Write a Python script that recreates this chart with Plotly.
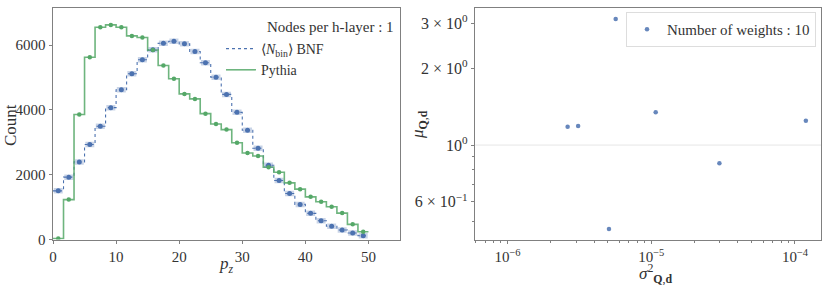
import numpy as np
import plotly.graph_objects as go

# ---------------- data ----------------
bin_edges = np.linspace(0, 50, 31)
bnf_counts = [1503, 1925, 2396, 2932, 3496, 4072, 4626, 5119, 5550, 5858,
              6061, 6123, 6043, 5806, 5458, 5014, 4481, 3927, 3373, 2818,
              2295, 1823, 1423, 1084, 807, 579, 407, 293, 200, 117]
pythia_counts = [30, 1232, 3862, 5628, 6554, 6628, 6554, 6289, 6237, 5850,
                 5375, 4965, 4497, 4343, 3887, 3567, 3394, 2988, 2673, 2577,
                 2234, 2079, 1750, 1555, 1318, 1164, 1010, 816, 468, 240]

sigma2 = [2.62e-6, 3.10e-6, 5.66e-6, 5.08e-6, 1.074e-5, 1.19e-4, 2.98e-5]
mu = [1.18, 1.187, 3.12, 0.469, 1.343, 1.245, 0.848]

x_ticks_left = [0, 10, 20, 30, 40, 50]
y_ticks_left = [0, 2000, 4000, 6000]
x_ticks_right = [1e-6, 1e-5, 1e-4]
x_ticktext_right = ["10<sup>−6</sup>", "10<sup>−5</sup>", "10<sup>−4</sup>"]
y_ticks_right = [0.6, 1, 2, 3]
y_ticktext_right = ["6 × 10<sup>−1</sup>", "10<sup>0</sup>", "2 × 10<sup>0</sup>", "3 × 10<sup>0</sup>"]

BLUE = "#4C72B0"
GREEN = "#55A868"
FONT = "Liberation Serif"
AX = "#808080"
TXT = "#333333"

centers = (bin_edges[:-1] + bin_edges[1:]) / 2
step_x = list(bin_edges)

fig = go.Figure()

# BNF step line
fig.add_trace(go.Scatter(x=step_x, y=bnf_counts + [bnf_counts[-1]], mode="lines",
                         line=dict(color=BLUE, dash="dot", width=1.1, shape="hv"),
                         name="⟨<i>N</i><sub>bin</sub>⟩ BNF", legend="legend",
                         xaxis="x", yaxis="y"))
# Pythia step line
fig.add_trace(go.Scatter(x=step_x, y=pythia_counts + [pythia_counts[-1]], mode="lines",
                         line=dict(color=GREEN, width=1.6, shape="hv"), opacity=0.85,
                         name="Pythia", legend="legend", xaxis="x", yaxis="y"))
# BNF error boxes + points
fig.add_trace(go.Scatter(x=centers, y=bnf_counts, mode="markers",
                         marker=dict(color=BLUE, size=5),
                         error_y=dict(type="constant", value=85, color="rgba(76,114,176,0.3)",
                                      thickness=9, width=0),
                         showlegend=False, xaxis="x", yaxis="y"))
fig.add_trace(go.Scatter(x=centers, y=pythia_counts, mode="markers",
                         marker=dict(color=GREEN, size=4.5),
                         showlegend=False, xaxis="x", yaxis="y"))

# right scatter
fig.add_trace(go.Scatter(x=sigma2, y=mu, mode="markers",
                         marker=dict(color=BLUE, size=4.5, opacity=0.85),
                         name="Number of weights : 10", legend="legend2",
                         xaxis="x2", yaxis="y2"))

ydom = [1 - 239.5 / 285, 1 - 8 / 285]
axis_common = dict(showline=True, linecolor=AX, linewidth=1, mirror=True,
                   ticks="outside", ticklen=3.5, tickcolor=AX, showgrid=False,
                   zeroline=False, automargin=False)

minor_x = [k * 10 ** e for e in (-7, -6, -5, -4) for k in range(2, 10)]
minor_y = [0.4, 0.5, 0.7, 0.8, 0.9, 4]

fig.update_layout(
    template="none",
    width=830, height=285, margin=dict(l=0, r=0, t=0, b=0),
    paper_bgcolor="white", plot_bgcolor="white",
    font=dict(family=FONT, size=14, color=TXT),
    xaxis=dict(domain=[53 / 830, 400 / 830], range=[0, 55], tickvals=x_ticks_left,
               tickfont=dict(family=FONT, size=15, color=TXT),
               anchor="y", **axis_common),
    yaxis=dict(domain=ydom, range=[0, 7150], tickvals=y_ticks_left,
               tickfont=dict(family=FONT, size=15, color=TXT),
               anchor="x", **axis_common),
    xaxis2=dict(domain=[475.3 / 830, 821.3 / 830], type="log", range=[-6.224, -3.817],
                tickvals=x_ticks_right, ticktext=x_ticktext_right,
                tickfont=dict(family=FONT, size=15, color=TXT),
                minor=dict(tickvals=minor_x, ticks="outside", ticklen=2, tickcolor=AX),
                anchor="y2", **axis_common),
    yaxis2=dict(domain=ydom, type="log", range=[-0.370, 0.537],
                tickvals=y_ticks_right, ticktext=y_ticktext_right,
                tickfont=dict(family=FONT, size=16, color=TXT),
                minor=dict(tickvals=minor_y, ticks="outside", ticklen=2, tickcolor=AX),
                anchor="x2", **axis_common),
    legend=dict(x=221 / 830, y=1 - 33 / 285, xanchor="left", yanchor="top",
                bgcolor="rgba(0,0,0,0)", borderwidth=0, font=dict(size=14),
                tracegroupgap=0),
    legend2=dict(x=626 / 830, y=1 - 12 / 285, xanchor="left", yanchor="top",
                 bgcolor="white", bordercolor="#dddddd", borderwidth=1,
                 font=dict(size=15)),
    showlegend=True,
)

def px_ann(text, x, y, size=17, angle=0, xanchor="center"):
    fig.add_annotation(text=text, xref="paper", yref="paper",
                       x=x / 830, y=1 - y / 285, xanchor=xanchor, yanchor="middle",
                       textangle=angle, showarrow=False,
                       font=dict(family=FONT, size=size, color=TXT))

px_ann("Nodes per h-layer : 1", 265, 27, size=15, xanchor="left")
px_ann("Count", 10, 125, angle=-90)
px_ann("<i>p<sub>z</sub></i>", 226, 265)
px_ann("<i>μ</i><sub><b>Q</b>,<b>d</b></sub>", 419, 125, angle=-90)
px_ann("<i>σ</i><sup>2</sup><sub><b>Q</b>,<b>d</b></sub>", 656, 273)

fig.add_shape(type="line", xref="x2 domain", x0=0, x1=1, yref="y2", y0=1, y1=1,
              line=dict(color="#e6e6e6", width=1), layer="below")

fig.write_html("out.html", config={"displayModeBar": False},
               post_script="document.body.style.margin='0px';")
